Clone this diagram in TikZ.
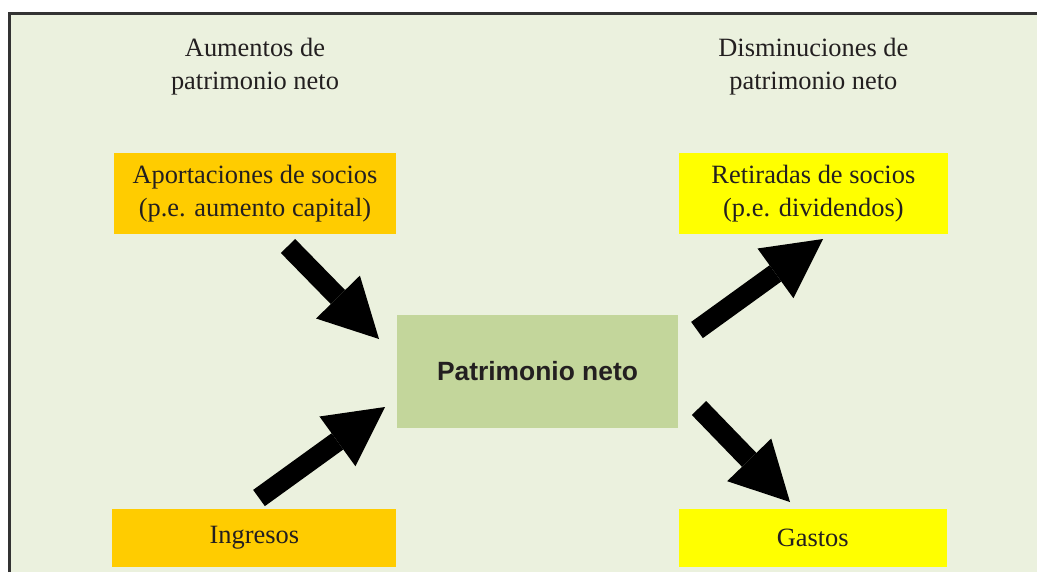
\documentclass[tikz,border=0pt]{standalone}
\usepackage{fontspec}
\setmainfont{Liberation Serif}
\setsansfont{Liberation Sans}
\usetikzlibrary{arrows.meta,positioning}
\definecolor{fondo}{HTML}{EBF1DE}
\definecolor{oliva}{HTML}{C3D69B}
\definecolor{naranja}{HTML}{FFCC00}
\definecolor{amarillo}{HTML}{FFFF00}
\definecolor{texto}{HTML}{231F20}
\definecolor{marco}{HTML}{333333}
\tikzset{
    %Define standard arrow tip
    >={Triangle[length=44pt,width=46pt,line width=0pt]},
    %Define style for boxes
    caja/.style={
           rectangle,
           inner sep=0pt,
           text=texto,
           font=\fontsize{19.8}{24.5}\selectfont,
           align=center},
    % Define style for headings
    titulo/.style={
           caja,
           above=43pt of #1},
    % Define arrow style
    flecha/.style={
           ->,
           line width=15pt,
           draw=black}
}
\begin{document}
\begin{tikzpicture}[x=0.75pt,y=-0.75pt]
\useasboundingbox (0,0) rectangle (1037,572);
\fill[fondo] (10,13) rectangle (1037,572);
\draw[marco, line width=1.9pt] (9.7,572) -- (9.7,13.7) -- (1037,13.7);

\node[caja, fill=oliva, minimum width=211pt, minimum height=85pt,
      font=\fontsize{19.8}{24}\sffamily\bfseries](pn) at (537.5,371.5){Patrimonio neto};
\node[caja, fill=naranja, minimum width=212pt, minimum height=61pt,
      above left=60pt and 0pt of pn](apo){Aportaciones de socios\\(p.e. aumento capital)};
\node[caja, fill=amarillo, minimum width=202pt, minimum height=61pt,
      above right=60pt and 0pt of pn](ret){Retiradas de socios\\(p.e. dividendos)};
\node[caja, fill=naranja, minimum width=213pt, minimum height=44pt,
      below left=60pt and 0pt of pn](ing){Ingresos};
\node[caja, fill=amarillo, minimum width=201pt, minimum height=44pt,
      below right=60pt and 0pt of pn](gas){Gastos};

\node[titulo=apo](aum){Aumentos de\\patrimonio neto};
\node[titulo=ret](dis){Disminuciones de\\patrimonio neto};

% ends of the arrows
\coordinate (f1a) at (288,246);
\coordinate (f1b) at (379,339);
\coordinate (f2a) at (259,498);
\coordinate (f2b) at (385,407);
\coordinate (f3a) at (697,330);
\coordinate (f3b) at (823,239);
\coordinate (f4a) at (699,408);
\coordinate (f4b) at (790,502);

\draw[flecha] (f1a) -- (f1b);
\draw[flecha] (f2a) -- (f2b);
\draw[flecha] (f3a) -- (f3b);
\draw[flecha] (f4a) -- (f4b);

\end{tikzpicture}
\end{document}
